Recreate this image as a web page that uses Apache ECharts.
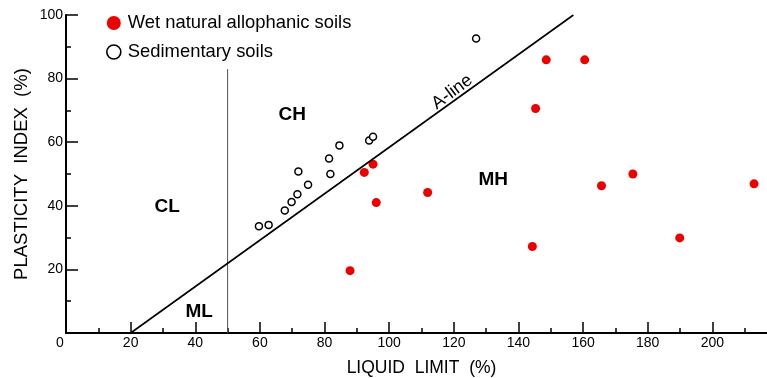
<!DOCTYPE html>
<html><head><meta charset="utf-8">
<script src="https://cdn.jsdelivr.net/npm/echarts@6/dist/echarts.min.js"></script>
<style>html,body{margin:0;padding:0;background:#fff}#c{width:767px;height:378px}</style>
</head><body><div id="c"></div>
<script>
// Wet natural allophanic soils (liquid limit %, plasticity index %)
const wetLL = [92.3, 95.0, 96.0, 87.9, 111.9, 145.3, 148.6, 160.5, 144.3, 165.7, 175.4, 189.9, 212.9];
const wetPI = [50.5, 53.1, 41.0, 19.6, 44.2, 70.6, 85.9, 85.9, 27.2, 46.3, 50.0, 29.9, 46.9];
// Sedimentary soils
const sedLL = [59.7, 62.7, 67.7, 69.8, 71.6, 74.9, 71.9, 81.8, 81.4, 84.6, 93.8, 95.0, 126.9];
const sedPI = [33.6, 34.0, 38.5, 41.2, 43.6, 46.6, 50.8, 50.0, 54.9, 59.0, 60.5, 61.7, 92.6];
// A-line end points
const aLineLL = [20, 157];
const aLinePI = [0, 100];
// vertical LL = 50 line
const ll50LL = [50, 50];
const ll50PI = [0, 83];
// zone labels
const zoneNames = ['CL', 'ML', 'CH', 'MH'];
const zoneLL = [31.3, 41.2, 70.0, 132.2];
const zonePI = [39.7, 6.6, 68.7, 48.2];
// A-line label
const aLineText = ['A-line'];
const aLineTextLL = [119.5];
const aLineTextPI = [75.8];
// tick labels
const xTickLabels = [0, 20, 40, 60, 80, 100, 120, 140, 160, 180, 200];
const yTickLabels = [20, 40, 60, 80, 100];

const seriesNames = ['Wet natural allophanic soils', 'Sedimentary soils'];
const axisNames = ['LIQUID  LIMIT  (%)', 'PLASTICITY  INDEX  (%)'];

const zip = (a, b) => a.map((v, i) => [v, b[i]]);
const FONT = 'Liberation Sans';
const RED = '#ec0000';

const chart = echarts.init(document.getElementById('c'), null, {renderer: 'canvas'});
chart.setOption({
  animation: false,
  backgroundColor: '#fff',
  grid: {left: 66, top: 15, bottom: 45, right: -10, containLabel: false, outerBoundsMode: 'none'},
  legend: {
    orient: 'vertical', left: 106, top: 13, padding: 0,
    itemWidth: 14, itemHeight: 14, itemGap: 9,
    textStyle: {fontFamily: FONT, fontSize: 18.4, color: '#000', lineHeight: 20, padding: [0, 0, 0, 2]},
    data: [
      {name: seriesNames[0], icon: 'circle'},
      {name: seriesNames[1], icon: 'circle', itemStyle: {color: '#fff', borderColor: '#000', borderWidth: 1.6, opacity: 1}}
    ]
  },
  xAxis: {
    type: 'value', min: 0, max: 220, interval: 20,
    name: axisNames[0], nameLocation: 'middle', nameGap: 26, nameMoveOverlap: false,
    nameTextStyle: {fontFamily: FONT, fontSize: 17.5, color: '#000'},
    axisLine: {show: true, onZero: false, lineStyle: {color: '#000', width: 2}},
    axisTick: {show: true, inside: true, length: 11, lineStyle: {color: '#000', width: 1.5}},
    minorTick: {show: true, splitNumber: 2, length: 5, lineStyle: {color: '#000', width: 1.5}},
    splitLine: {show: false},
    axisLabel: {
      margin: 3, fontFamily: FONT, fontSize: 14, color: '#000',
      showMinLabel: true, showMaxLabel: false,
      formatter: v => xTickLabels.indexOf(v) < 0 ? '' : (v === 0 ? '{z|0}' : String(v)),
      rich: {z: {fontFamily: FONT, fontSize: 14, color: '#000', padding: [0, 12, 0, 0]}}
    }
  },
  yAxis: {
    type: 'value', min: 0, max: 100, interval: 20,
    name: axisNames[1], nameLocation: 'middle', nameGap: 35, nameMoveOverlap: false,
    nameTextStyle: {fontFamily: FONT, fontSize: 18.5, color: '#000'},
    axisLine: {show: true, onZero: false, lineStyle: {color: '#000', width: 2}},
    axisTick: {show: true, inside: true, length: 12, lineStyle: {color: '#000', width: 1.5}},
    minorTick: {show: true, splitNumber: 2, length: 5, lineStyle: {color: '#000', width: 1.5}},
    splitLine: {show: false},
    axisLabel: {
      margin: 3, fontFamily: FONT, fontSize: 14, color: '#000',
      formatter: v => yTickLabels.indexOf(v) < 0 ? '' : String(v)
    }
  },
  series: [
    {
      type: 'line', name: 'LL50', data: zip(ll50LL, ll50PI), showSymbol: false, symbol: 'none',
      lineStyle: {color: '#555', width: 1}, silent: true
    },
    {
      type: 'line', name: 'A', data: zip(aLineLL, aLinePI), showSymbol: false, symbol: 'none',
      lineStyle: {color: '#000', width: 1.6}, silent: true
    },
    {
      type: 'scatter', name: 'zones', data: zip(zoneLL, zonePI).map((p, i) => ({value: p, name: zoneNames[i]})),
      symbolSize: 1, itemStyle: {color: 'rgba(0,0,0,0)', opacity: 1},
      label: {show: true, position: 'inside', formatter: p => p.name,
        fontFamily: FONT, fontWeight: 'bold', fontSize: 19, color: '#000'}
    },
    {
      type: 'scatter', name: 'aLabel', data: zip(aLineTextLL, aLineTextPI).map((p, i) => ({value: p, name: aLineText[i]})),
      symbolSize: 1, itemStyle: {color: 'rgba(0,0,0,0)', opacity: 1},
      label: {show: true, position: 'inside', rotate: 36.5, formatter: p => p.name,
        fontFamily: FONT, fontSize: 18, color: '#000'}
    },
    {
      type: 'scatter', name: seriesNames[1], data: zip(sedLL, sedPI),
      symbol: 'circle', symbolSize: 7,
      itemStyle: {color: '#fff', borderColor: '#000', borderWidth: 1.5, opacity: 1}
    },
    {
      type: 'scatter', name: seriesNames[0], data: zip(wetLL, wetPI),
      symbol: 'circle', symbolSize: 9,
      itemStyle: {color: RED, opacity: 1}
    }
  ]
});
</script></body></html>
